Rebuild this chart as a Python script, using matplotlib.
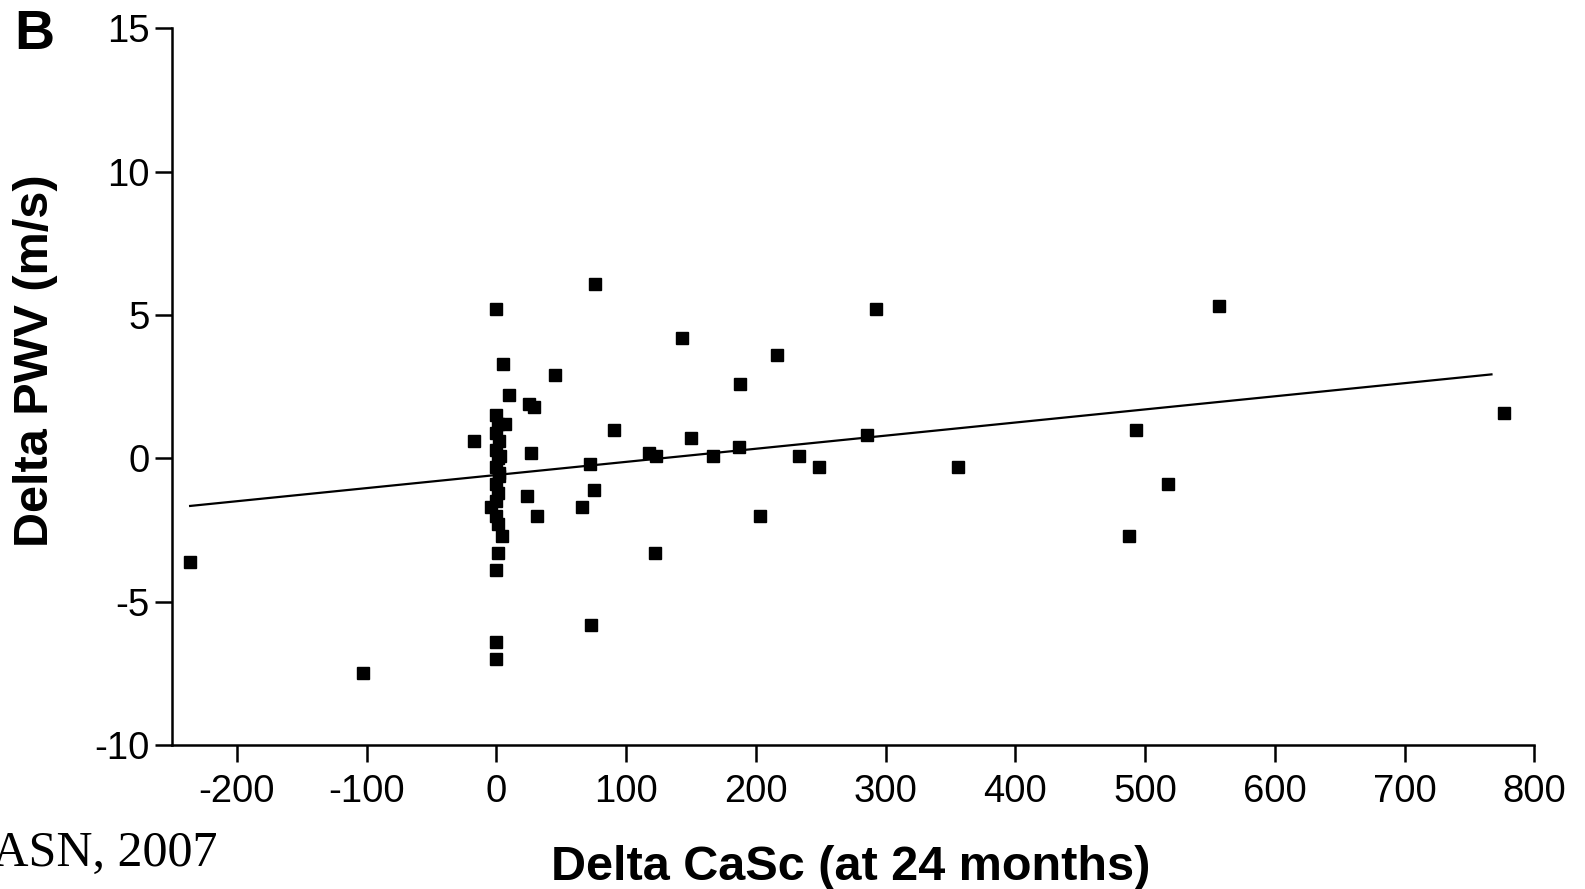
import matplotlib
matplotlib.use("Agg")
import matplotlib.pyplot as plt
import numpy as np

plt.rcParams["font.family"] = ["Liberation Sans", "DejaVu Sans"]
plt.rcParams["axes.unicode_minus"] = False

# Delta CaSc (x) and Delta PWV (y)
casc = [-236, -103, -17, 0, 76, 5, 10, 45, 25, 29, 27, 24, 31,
        143, 216, 188, 91, 150, 118, 123, 167, 187, 233, 249, 286, 293, 356,
        72, 75, 66, 203, 122, 73, 488, 493, 518, 557, 777,
        0, 1, 0, 2, 0, 1, 0, 2, 0, 1, 0, 7, 3, -4, 0, 1, 4, 1, 0, 0, 0, 2]
pwv = [-3.6, -7.5, 0.6, 5.2, 6.1, 3.3, 2.2, 2.9, 1.9, 1.8, 0.2, -1.3, -2.0,
       4.2, 3.6, 2.6, 1.0, 0.7, 0.2, 0.1, 0.1, 0.4, 0.1, -0.3, 0.8, 5.2, -0.3,
       -0.2, -1.1, -1.7, -2.0, -3.3, -5.8, -2.7, 1.0, -0.9, 5.3, 1.6,
       1.5, 1.2, 0.9, 0.6, 0.3, 0.0, -0.3, -0.6, -0.9, -1.2, -1.5, 1.2, 0.1, -1.7,
       -2.0, -2.3, -2.7, -3.3, -3.9, -6.4, -7.0, -0.5]

# regression line end points
fit_x = [-236, 767]
fit_y = [-1.66, 2.93]

xticks = [-200, -100, 0, 100, 200, 300, 400, 500, 600, 700, 800]
yticks = [-10, -5, 0, 5, 10, 15]

fig = plt.figure(figsize=(15.85, 8.89), dpi=100)
ax = fig.add_axes([0.1085, 0.162, 0.8595, 0.806])

ax.plot(casc, pwv, "s", color="black", markersize=8.5, zorder=3)
ax.plot(fit_x, fit_y, color="black", linewidth=1.6, zorder=2)

ax.set_xlim(-250, 800)
ax.set_ylim(-10, 15)
ax.set_xticks(xticks)
ax.set_yticks(yticks)
ax.spines["top"].set_visible(False)
ax.spines["right"].set_visible(False)
for s in ["left", "bottom"]:
    ax.spines[s].set_linewidth(1.8)
ax.tick_params(direction="out", length=12, width=1.8, labelsize=27.5)
ax.tick_params(axis="x", pad=9)
ax.tick_params(axis="y", pad=4)

ax.set_xlabel("Delta CaSc (at 24 months)", fontsize=35, fontweight="bold")
ax.set_ylabel("Delta PWV (m/s)", fontsize=35, fontweight="bold")
ax.xaxis.label.set_va("center")
ax.yaxis.label.set_va("center")
ax.xaxis.set_label_coords(0.498, -0.171)
ax.yaxis.set_label_coords(-0.100, 0.536)

fig.text(0.0215, 0.961, "B", fontsize=40, fontweight="bold", ha="center", va="center")
# the reference crops the "J" at the left edge
fig.text(0.137, 0.040, "JASN, 2007", fontsize=36, family=["Liberation Serif", "DejaVu Serif"],
         ha="right", va="center")

fig.savefig("out.png", dpi=100)
